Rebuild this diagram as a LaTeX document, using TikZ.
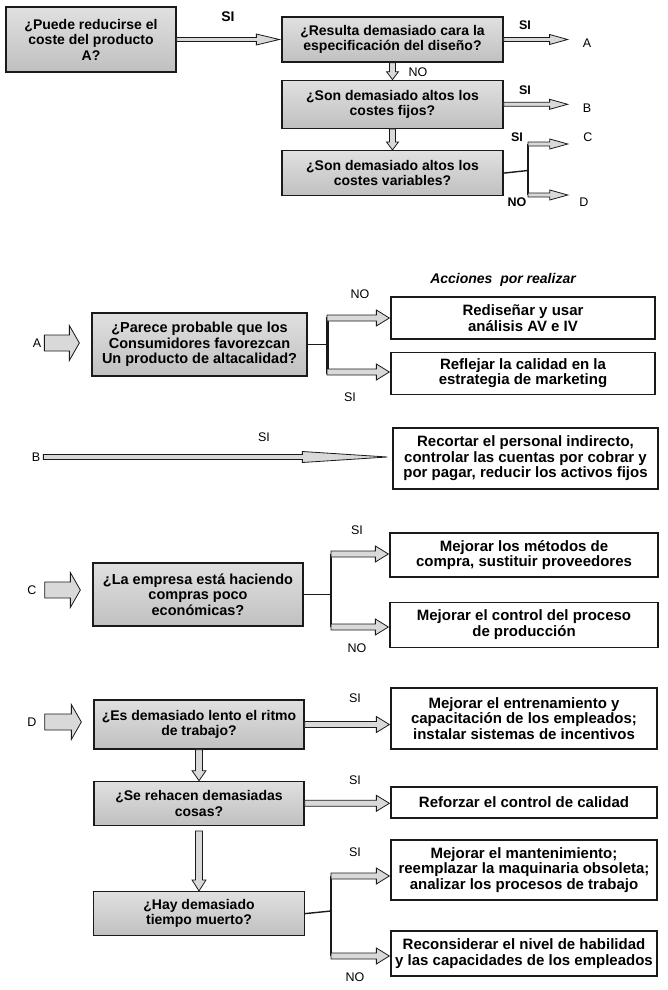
\documentclass[tikz,border=0pt]{standalone}
\usepackage{fontspec}
\setmainfont{Liberation Sans}
\usepackage{xcolor}
\definecolor{Ink}{HTML}{1A1A1A}
\definecolor{BoxTop}{HTML}{E0E0E0}
\definecolor{BoxBottom}{HTML}{C0C0C0}
\definecolor{Pipe}{HTML}{D9D9D9}
\colorlet{ink}{Ink}
\colorlet{boxtop}{BoxTop}
\colorlet{boxbottom}{BoxBottom}
\colorlet{pipe}{Pipe}
\usepackage{tikz}
\usetikzlibrary{calc,positioning}
\begin{document}
\begin{tikzpicture}[x=1pt,y=-1pt,
  every node/.style={font=\fontsize{12.5}{14}\selectfont,align=center,inner sep=1pt},
  ask/.style={draw=ink,line width=1.3pt,top color=boxtop,bottom color=boxbottom,inner sep=3pt,font=\bfseries\fontsize{14}{15.5}\selectfont},
  act/.style={draw=ink,line width=1.3pt,fill=white,inner sep=3pt,font=\bfseries\fontsize{15}{15.5}\selectfont},
  tag/.style={font=\bfseries\fontsize{12.5}{14}\selectfont},
  rarrow/.style n args={5}{draw=ink,line width=.8pt,fill=pipe,line join=miter,
    to path={let \p1=(\tikztostart),\p2=(\tikztotarget) in
      (\x1+#5,\y1+#1) -- (\x2-#3-#4,\y1+#1) -- (\x2-#3-#4,\y1+#2) -- (\x2-#4,\y1)
      -- (\x2-#3-#4,\y1-#2) -- (\x2-#3-#4,\y1-#1) -- (\x1+#5,\y1-#1) -- cycle}},
  darrow/.style n args={5}{draw=ink,line width=.8pt,fill=pipe,line join=miter,
    to path={let \p1=(\tikztostart),\p2=(\tikztotarget) in
      (\x1+#1,\y1-#5) -- (\x1+#1,\y2+#3+#4) -- (\x1+#2,\y2+#3+#4) -- (\x1,\y2+#4)
      -- (\x1-#2,\y2+#3+#4) -- (\x1-#1,\y2+#3+#4) -- (\x1-#1,\y1-#5) -- cycle}},
  topr/.style={rarrow={2pt}{5pt}{18pt}{#1}{0pt}},topr/.default=0pt,
  midr/.style={rarrow={3pt}{8pt}{13pt}{#1}{0pt}},midr/.default=1pt,
  entry/.style={rarrow={8pt}{17.5pt}{10pt}{12pt}{#1}},entry/.default=2pt,
  fork/.style={draw=ink,line width=1.4pt}]
\path[use as bounding box] (0,0) rectangle (668,990);

\node[ask,minimum width=170pt,minimum height=65pt] (q1) at (91,39.5) {¿Puede reducirse el\\coste del producto\\A?};
\node[ask,minimum width=221pt,minimum height=45pt] (q2) at (392.5,39.5) {¿Resulta demasiado cara la\\especificación del diseño?};
\node[ask,minimum width=221pt,minimum height=48pt,below=17pt of q2] (q3) {¿Son demasiado altos los\\costes fijos?};
\node[ask,minimum width=221pt,minimum height=45pt,below=21pt of q3] (q4) {¿Son demasiado altos los\\costes variables?};
\node (tA) at (587,43) {A};
\node (tB) at (587,108) {B};
\node (tC) at (588,137) {C};
\node (tD) at (584,202) {D};
\node[tag,font=\bfseries\fontsize{14}{16}\selectfont] (si1) at (228,17) {SI};
\node[tag] (si2) at (525,25) {SI};
\node[tag] (si3) at (525,90) {SI};
\node[tag] (si4) at (517,137) {SI};
\node (no1) at (418,72) {NO};
\node[tag] (no2) at (517,202) {NO};
\coordinate (b4) at (528,170.5);
\coordinate (k4a) at (528,144);
\coordinate (k4b) at (528,195);
\draw[rarrow={2pt}{5.5pt}{23pt}{2pt}{0pt}] (q1.east) to (q2.west);
\draw[topr=14pt] (q2.east) to (tA.west);
\draw[topr=14pt] (q3.east) to (tB.west);
\draw[darrow={3pt}{6pt}{8pt}{0pt}{0pt}] (q2.south) to (q3.north);
\draw[darrow={3pt}{6pt}{8pt}{0pt}{0pt}] (q3.south) to (q4.north);
\draw[fork] (q4.east) -- (b4);
\draw[fork] (k4a) -- (k4b);
\draw[topr=14.5pt] (k4a) to (tC.west);
\draw[topr=10.5pt] (k4b) to (tD.west);

\node[font=\bfseries\itshape\fontsize{14}{16}\selectfont] (acc) at (503,280) {Acciones\ \ por realizar};
\node (eA) at (37,343) {A};
\node[ask,minimum width=215pt,minimum height=63pt,font=\bfseries\fontsize{14.5}{15.5}\selectfont] (qA) at (199.5,344.5) {¿Parece probable que los\\Consumidores favorezcan\\Un producto de altacalidad?};
\node[act,minimum width=264pt,minimum height=42pt] (rA1) at (523,318) {Rediseñar y usar\\análisis AV e IV};
\node[act,minimum width=264pt,minimum height=42pt,below=12pt of rA1] (rA2) {Reflejar la calidad en la\\estrategia de marketing};
\node (noA) at (360,294) {NO};
\node (siA) at (350,397) {SI};
\coordinate (bA) at (327,344.5);
\coordinate (kA1) at (327,318);
\coordinate (kA2) at (327,372);
\draw[entry] (eA.east) to (qA.west);
\draw[fork] (qA.east) -- (bA);
\draw[fork,line width=3pt,line cap=rect] (kA1) -- (kA2);
\draw[midr] (kA1) to (rA1.west);
\draw[midr] (kA2) to (rA2.west);

\node (eB) at (36,457) {B};
\node[act,minimum width=265pt,minimum height=61pt] (rB) at (525.5,458.5) {Recortar el personal indirecto,\\controlar las cuentas por cobrar y\\por pagar, reducir los activos fijos};
\node (siB) at (264,437) {SI};
\draw[rarrow={2.5pt}{5.5pt}{85pt}{5pt}{2pt}] (eB.east) to (rB.west);

\node (eC) at (32,590) {C};
\node[ask,minimum width=210pt,minimum height=63pt,font=\bfseries\fontsize{14.5}{15.5}\selectfont] (qC) at (198,594.5) {¿La empresa está haciendo\\compras poco\\económicas?};
\node[act,minimum width=268pt,minimum height=44pt] (rC1) at (524,555) {Mejorar los métodos de\\compra, sustituir proveedores};
\node[act,minimum width=268pt,minimum height=45pt,below=24pt of rC1] (rC2) {Mejorar el control del proceso\\de producción};
\node (siC) at (357,530) {SI};
\node (noC) at (357,648) {NO};
\coordinate (bC) at (331,594.5);
\coordinate (kC1) at (331,554);
\coordinate (kC2) at (331,627);
\draw[entry=7pt] (eC.east) to (qC.west);
\draw[fork] (qC.east) -- (bC);
\draw[fork] (kC1) -- (kC2);
\draw[midr] (kC1) to (rC1.west);
\draw[midr] (kC2) to (rC2.west);

\node (eD) at (32,722) {D};
\node[ask,minimum width=210pt,minimum height=49pt] (qD1) at (199,724.5) {¿Es demasiado lento el ritmo\\de trabajo?};
\node[ask,minimum width=210pt,minimum height=44pt,below=31pt of qD1] (qD2) {¿Se rehacen demasiadas\\cosas?};
\node[ask,minimum width=211pt,minimum height=44pt,below=65pt of qD2] (qD3) {¿Hay demasiado\\tiempo muerto?};
\node[act,minimum width=266pt,minimum height=61pt] (rD1) at (524,718.5) {Mejorar el entrenamiento y\\capacitación de los empleados;\\instalar sistemas de incentivos};
\node[act,minimum width=266pt,minimum height=31pt] (rD2) at (524,802.5) {Reforzar el control de calidad};
\node[act,minimum width=266pt,minimum height=60pt] (rD3) at (524,870) {Mejorar el mantenimiento;\\reemplazar la maquinaria obsoleta;\\analizar los procesos de trabajo};
\node[act,minimum width=266pt,minimum height=45pt] (rD4) at (524,953.5) {Reconsiderar el nivel de habilidad\\y las capacidades de los empleados};
\node (siD1) at (355,698) {SI};
\node (siD2) at (355,780) {SI};
\node (siD3) at (355,852) {SI};
\node (noD3) at (355,977) {NO};
\coordinate (bD) at (331,911);
\coordinate (kD1) at (331,876);
\coordinate (kD2) at (331,956);
\draw[entry=7pt] (eD.east) to (qD1.west);
\draw[midr] (qD1.east) to (rD1.west);
\draw[midr] (qD2.east) to (rD2.west);
\draw[darrow={3.5pt}{7pt}{10pt}{0pt}{0pt}] (qD1.south) to (qD2.north);
\draw[darrow={3.5pt}{7pt}{11pt}{0pt}{5pt}] (qD2.south) to (qD3.north);
\draw[fork] (qD3.east) -- (bD);
\draw[fork] (kD1) -- (kD2);
\draw[midr] (kD1) to (rD3.west);
\draw[midr] (kD2) to (rD4.west);
\end{tikzpicture}
\end{document}
